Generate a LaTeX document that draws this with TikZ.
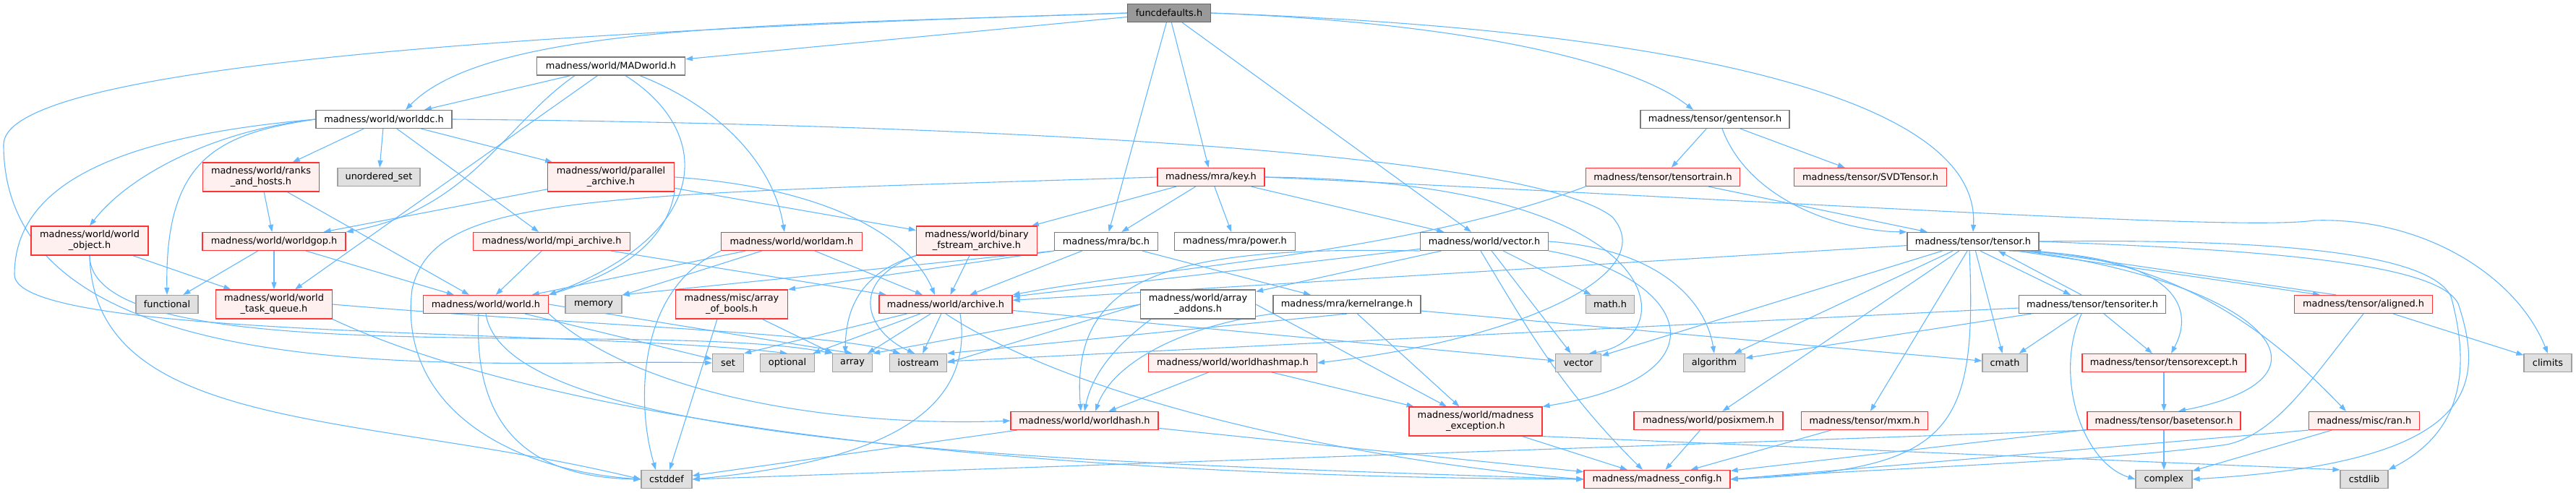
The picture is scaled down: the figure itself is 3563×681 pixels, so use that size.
\documentclass[tikz,border=0pt]{standalone}
\usepackage{fontspec}
\usetikzlibrary{arrows.meta, backgrounds}
\newfontfamily\hdrfamily{DejaVu Sans}
\definecolor{edgeblue}{HTML}{63B8FF}
\definecolor{redline}{HTML}{FF3333}
\definecolor{redfill}{HTML}{FFF0F0}
\definecolor{plainline}{HTML}{7A7A7A}
\definecolor{sysline}{HTML}{A0A0A0}
\definecolor{sysfill}{HTML}{E0E0E0}
\definecolor{rootline}{HTML}{666666}
\definecolor{rootfill}{HTML}{999999}

\begin{document}
\begin{tikzpicture}[
  x=1pt, y=-1pt,
  hdr/.style={draw, line width=1.2pt, inner sep=0pt, minimum height=25pt, align=center,
    font={\hdrfamily\fontsize{12.9}{15}\selectfont}},
  twoline/.style={minimum height=40pt},
  rootbox/.style={hdr, fill=rootfill, draw=rootline},
  plainbox/.style={hdr, fill=white, draw=plainline},
  redbox/.style={hdr, fill=redfill, draw=redline},
  sysbox/.style={hdr, fill=sysfill, draw=sysline},
  dep/.style={draw=edgeblue, line width=1.1pt, -{Triangle[length=10pt, width=7pt]}}
]
\useasboundingbox (0,0) rectangle (3563,681);

\node[rootbox, minimum width=115pt] (funcdef) at (1617,18) {funcdefaults.h};
\node[plainbox, minimum width=205pt] (madworld) at (845,91.5) {madness/world/MADworld.h};
\node[plainbox, minimum width=188pt] (worlddc) at (531,165) {madness/world/worlddc.h};
\node[redbox, twoline, minimum width=161pt] (ranks) at (361,245) {madness/world/ranks\\\_and\_hosts.h};
\node[sysbox, minimum width=114pt] (unordset) at (524,245) {unordered\_set};
\node[redbox, twoline, minimum width=175pt] (parallel) at (845,245) {madness/world/parallel\\\_archive.h};
\node[redbox, minimum width=148pt] (key) at (1675,245) {madness/mra/key.h};
\node[plainbox, minimum width=206pt] (gentensor) at (2372,165) {madness/tensor/gentensor.h};
\node[redbox, minimum width=213pt] (tensortrain) at (2300,245) {madness/tensor/tensortrain.h};
\node[redbox, minimum width=211pt] (svdtensor) at (2587,245) {madness/tensor/SVDTensor.h};
\node[redbox, twoline, minimum width=162pt] (wobject) at (124,333) {madness/world/world\\\_object.h};
\node[redbox, minimum width=198pt] (worldgop) at (379,334) {madness/world/worldgop.h};
\node[redbox, minimum width=217pt] (mpi) at (763,334) {madness/world/mpi\_archive.h};
\node[redbox, minimum width=195pt] (worldam) at (1095,334) {madness/world/worldam.h};
\node[redbox, twoline, minimum width=167pt] (binary) at (1351,333) {madness/world/binary\\\_fstream\_archive.h};
\node[plainbox, minimum width=143pt] (bc) at (1530,334) {madness/mra/bc.h};
\node[plainbox, minimum width=167pt] (power) at (1708,334) {madness/mra/power.h};
\node[plainbox, minimum width=177pt] (wvector) at (2053,334) {madness/world/vector.h};
\node[plainbox, minimum width=182pt] (tensor) at (2729,334) {madness/tensor/tensor.h};
\node[sysbox, minimum width=86pt] (functional) at (231,421) {functional};
\node[redbox, twoline, minimum width=161pt] (wtq) at (379,421) {madness/world/world\\\_task\_queue.h};
\node[redbox, minimum width=173pt] (world) at (672,421) {madness/world/world.h};
\node[sysbox, minimum width=78pt] (memory) at (821,421) {memory};
\node[redbox, twoline, minimum width=155pt] (arrbools) at (1012,421) {madness/misc/array\\\_of\_bools.h};
\node[redbox, minimum width=184pt] (archive) at (1308,421) {madness/world/archive.h};
\node[plainbox, twoline, minimum width=159pt] (arraddons) at (1657,421) {madness/world/array\\\_addons.h};
\node[plainbox, minimum width=204pt] (kernelrange) at (1863,421) {madness/mra/kernelrange.h};
\node[sysbox, minimum width=67pt] (mathh) at (2227,421) {math.h};
\node[plainbox, minimum width=203pt] (tensoriter) at (2894,421) {madness/tensor/tensoriter.h};
\node[redbox, minimum width=191pt] (aligned) at (3269,421) {madness/tensor/aligned.h};
\node[sysbox, minimum width=43pt] (set) at (1007,502) {set};
\node[sysbox, minimum width=75pt] (optional) at (1089,502) {optional};
\node[sysbox, minimum width=55pt] (array) at (1179,502) {array};
\node[sysbox, minimum width=79pt] (iostream) at (1270,502) {iostream};
\node[redbox, minimum width=233pt] (worldhashmap) at (1705,502) {madness/world/worldhashmap.h};
\node[sysbox, minimum width=63pt] (stdvector) at (2183,502) {vector};
\node[sysbox, minimum width=85pt] (algorithm) at (2371,502) {algorithm};
\node[sysbox, minimum width=62pt] (cmath) at (2773,502) {cmath};
\node[redbox, minimum width=226pt] (tensorexcept) at (2993,502) {madness/tensor/tensorexcept.h};
\node[sysbox, minimum width=66pt] (climits) at (3524,502) {climits};
\node[redbox, minimum width=204pt] (worldhash) at (1500,582) {madness/world/worldhash.h};
\node[redbox, twoline, minimum width=184pt] (mexception) at (2041,583) {madness/world/madness\\\_exception.h};
\node[redbox, minimum width=206pt] (posixmem) at (2363,582) {madness/world/posixmem.h};
\node[redbox, minimum width=175pt] (mxm) at (2579,582) {madness/tensor/mxm.h};
\node[redbox, minimum width=212pt] (basetensor) at (2993,582) {madness/tensor/basetensor.h};
\node[redbox, minimum width=153pt] (ran) at (3270,582) {madness/misc/ran.h};
\node[sysbox, minimum width=70pt] (cstddef) at (922,663) {cstddef};
\node[redbox, minimum width=202pt] (mconfig) at (2292,663) {madness/madness\_config.h};
\node[sysbox, minimum width=78pt] (complex) at (2993,663) {complex};
\node[sysbox, minimum width=66pt] (cstdlib) at (3270,663) {cstdlib};

\begin{scope}[on background layer]
\foreach \a/\b in {
  funcdef/madworld, funcdef/key, funcdef/bc, funcdef/wvector,
  madworld/worlddc, madworld/wtq,
  worlddc/ranks, worlddc/unordset, worlddc/parallel, worlddc/mpi,
  ranks/worldgop, ranks/world, parallel/worldgop, parallel/binary,
  key/binary, key/bc, key/power, key/wvector,
  gentensor/tensortrain, gentensor/svdtensor, tensortrain/tensor,
  wobject/wtq, worldgop/functional, worldgop/wtq, worldgop/world,
  mpi/world, mpi/archive, worldam/world, worldam/memory, worldam/archive,
  binary/archive, bc/archive, bc/kernelrange,
  bc.south west/memory.north east, bc.south west/arrbools.north east,
  wvector/archive, wvector/arraddons, wvector/stdvector, wvector/mathh,
  tensor/archive, tensor/stdvector, tensor/algorithm, tensor/cmath,
  tensor/posixmem, tensor/mxm,
  tensoriter/cmath, tensoriter/tensorexcept, tensoriter/algorithm, tensoriter/iostream,
  aligned/climits, tensorexcept/basetensor, basetensor/complex, basetensor/mconfig,
  basetensor.south west/cstddef.east, ran/complex, ran.south west/mconfig.east,
  mexception/mconfig, mexception.south east/cstdlib.north west,
  posixmem/mconfig, mxm/mconfig,
  worldhashmap/worldhash, worldhashmap/mexception, worldhash/cstddef, worldhash/mconfig,
  kernelrange/mexception, kernelrange/cmath, kernelrange.south/iostream.north east,
  arraddons.west/array.north east, arraddons.west/iostream.east,
  archive/set.north east, archive/optional, archive/array, archive/iostream, archive/stdvector,
  world/set, world.east/array.north, arrbools/array}
  \draw[dep] (\a) -- (\b);

\draw[dep] (arraddons.east) -- ([xshift=-40pt]mexception.north);
\draw[dep] ([xshift=-20pt]arrbools.south) -- (cstddef);
\draw[dep] (funcdef.west) .. controls (1100,35) and (680,30) .. ([xshift=30pt]worlddc.north);
\draw[dep] (funcdef.west) .. controls (500,50) and (5,110) .. (5,200) .. controls (5,560) and (700,495) .. (set.west);
\draw[dep] (funcdef.east) .. controls (2000,30) and (2250,80) .. ([xshift=-30pt]gentensor.north);
\draw[dep] (funcdef.east) .. controls (2300,40) and (2740,130) .. (tensor.north);
\draw[dep] ([xshift=-50pt]madworld.south) .. controls (700,170) and (650,290) .. (worldgop.north east);
\draw[dep] ([xshift=20pt]madworld.south) .. controls (985,180) and (990,320) .. (world.north east);
\draw[dep] ([xshift=40pt]madworld.south) .. controls (1000,150) and (1070,230) .. ([xshift=-10pt]worldam.north);
\draw[dep] (worlddc.west) .. controls (300,180) and (180,240) .. (wobject.north);
\draw[dep] (worlddc.west) .. controls (300,185) and (228,220) .. (functional.north);
\draw[dep] (worlddc.west) .. controls (150,190) and (20,260) .. (20,380) .. controls (20,470) and (800,455) .. (optional.north);
\draw[dep] (worlddc.east) .. controls (1200,170) and (2100,200) .. (2230,300) .. controls (2300,380) and (2100,470) .. (worldhashmap.east);
\draw[dep] (parallel.south east) .. controls (920,340) and (850,380) .. (world.north east);
\draw[dep] (parallel.east) .. controls (1150,260) and (1260,330) .. ([xshift=-15pt]archive.north);
\draw[dep] (key.east) .. controls (2500,280) and (3100,320) .. (3200,305) .. controls (3350,300) and (3480,380) .. (climits.north);
\draw[dep] (key.east) .. controls (2320,250) and (2330,470) .. ([xshift=15pt]stdvector.north);
\draw[dep] (key.west) .. controls (800,270) and (600,270) .. (570,400) .. controls (550,560) and (700,650) .. (cstddef.west);
\draw[dep] ([xshift=10pt]gentensor.south) .. controls (2420,280) and (2550,320) .. (tensor.north west);
\draw[dep] (tensortrain.south west) .. controls (1950,350) and (1600,370) .. (archive.north east);
\draw[dep] (wobject.south) .. controls (125,520) and (900,440) .. (array.north west);
\draw[dep] (wobject.south) .. controls (130,600) and (500,570) .. (cstddef.west);
\draw[dep] (wtq.east) .. controls (800,450) and (1150,460) .. ([xshift=-25pt]iostream.north);
\draw[dep] (wtq.south east) .. controls (800,600) and (1500,660) .. (mconfig.west);
\draw[dep] (world.south east) .. controls (900,560) and (1200,590) .. (worldhash.west);
\draw[dep] ([xshift=-10pt]world.south) .. controls (655,580) and (720,660) .. (cstddef.west);
\draw[dep] (world.south) .. controls (700,620) and (1500,640) .. (mconfig.west);
\draw[dep] (worldam.south west) .. controls (880,400) and (880,560) .. ([xshift=-15pt]cstddef.north);
\draw[dep] (binary.south west) .. controls (1180,380) and (1170,440) .. ([xshift=-10pt]array.north);
\draw[dep] (binary.south west) .. controls (1170,390) and (1200,460) .. ([xshift=-5pt]iostream.north);
\draw[dep] (wvector.east) .. controls (2300,345) and (2360,420) .. (algorithm.north);
\draw[dep] ([xshift=-5pt]wvector.south) .. controls (2110,450) and (2160,540) .. ([xshift=-20pt]mconfig.north);
\draw[dep] (wvector.south east) .. controls (2330,380) and (2400,520) .. (mexception.north east);
\draw[dep] (wvector.south west) .. controls (1620,340) and (1480,380) .. ([xshift=-5pt]worldhash.north);
\draw[dep] ([xshift=15pt]arraddons.south west) .. controls (1540,480) and (1510,520) .. (worldhash.north);
\draw[dep] (kernelrange.south west) .. controls (1640,450) and (1540,500) .. ([xshift=15pt]worldhash.north);
\draw[dep] ([xshift=10pt]tensor.south) -- ([xshift=-30pt]tensoriter.north);
\draw[dep] ([xshift=-15pt]tensoriter.north) -- ([xshift=35pt]tensor.south);
\draw[dep] ([xshift=60pt]tensor.south) -- ([xshift=-60pt]aligned.north);
\draw[dep] ([xshift=-38pt]aligned.north) -- ([xshift=84pt]tensor.south);
\draw[dep] ([xshift=50pt]tensor.south) .. controls (3000,350) and (3040,420) .. ([xshift=10pt]tensorexcept.north);
\draw[dep] ([xshift=70pt]tensor.south) .. controls (3120,390) and (3260,520) .. ([xshift=20pt]basetensor.north);
\draw[dep] ([xshift=80pt]tensor.south) .. controls (3020,360) and (3150,470) .. ([xshift=-25pt]ran.north);
\draw[dep] (tensor.east) .. controls (3100,345) and (3370,360) .. (3400,420) .. controls (3440,540) and (3420,640) .. (complex.east);
\draw[dep] (tensor.east) .. controls (3150,330) and (3360,350) .. (3390,410) .. controls (3420,520) and (3400,600) .. (cstdlib.north east);
\draw[dep] ([xshift=-5pt]tensor.south) .. controls (2735,600) and (2700,650) .. (mconfig.east);
\draw[dep] (aligned.south) .. controls (3200,520) and (3150,600) .. (3080,615) .. controls (2900,640) and (2550,650) .. (mconfig.east);
\draw[dep] ([xshift=-15pt]tensoriter.south) .. controls (2840,520) and (2880,640) .. (complex.west);
\draw[dep] ([xshift=20pt]archive.south) .. controls (1350,580) and (1200,640) .. (cstddef.east);
\draw[dep] (archive.south) .. controls (1500,560) and (1900,640) .. (mconfig.west);
\end{scope}
\end{tikzpicture}
\end{document}
